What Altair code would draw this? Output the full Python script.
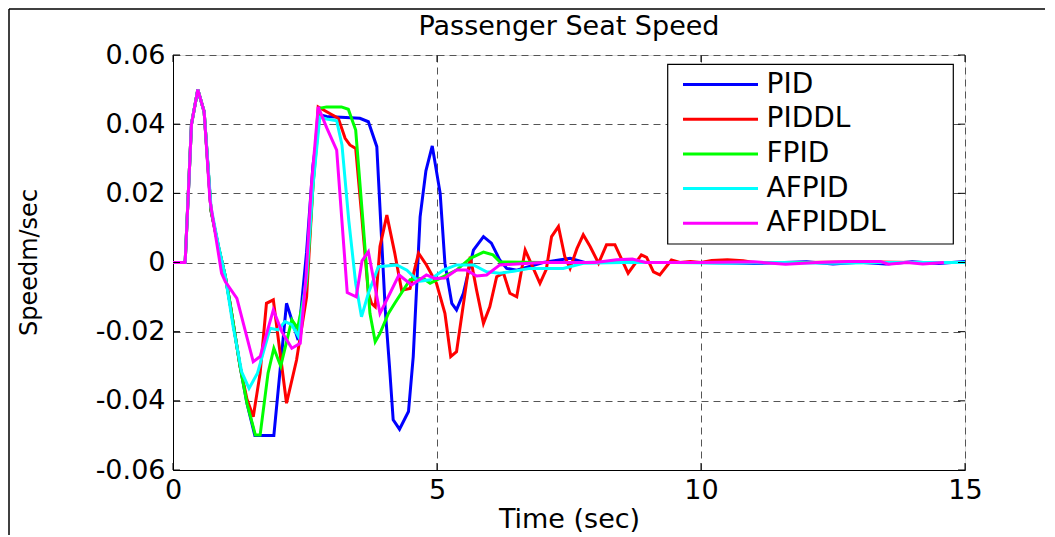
import altair as alt
import pandas as pd

FONT = "DejaVu Sans"

series_names = ["PID", "PIDDL", "FPID", "AFPID", "AFPIDDL"]
series_colors = ["#0000ff", "#ff0000", "#00ff00", "#00ffff", "#ff00ff"]

x_tick_values = [0, 5, 10, 15]
y_tick_values = [-0.06, -0.04, -0.02, 0, 0.02, 0.04, 0.06]

# (time [s], speed [m/s])
pid = [(0, 0), (0.23, 0), (0.35, 0.040), (0.47, 0.050), (0.59, 0.0436), (0.72, 0.015),
       (0.86, 0.0046), (0.99, -0.004), (1.08, -0.0118), (1.27, -0.030), (1.40, -0.0407),
       (1.55, -0.050), (1.91, -0.050), (2.15, -0.0118), (2.25, -0.0166), (2.37, -0.0224),
       (2.53, 0.003), (2.65, 0.028), (2.78, 0.0427), (2.91, 0.0422), (3.54, 0.0417),
       (3.70, 0.0407), (3.86, 0.0335), (4.02, -0.0137), (4.10, -0.030), (4.17, -0.0455),
       (4.29, -0.0482), (4.46, -0.0431), (4.55, -0.0272), (4.68, 0.0132), (4.79, 0.0265),
       (4.91, 0.0337), (5.06, 0.020), (5.15, -0.0002), (5.28, -0.0118), (5.37, -0.0137),
       (5.50, -0.0089), (5.69, 0.0036), (5.88, 0.0075), (6.03, 0.0056), (6.19, 0.0007),
       (6.32, -0.0017), (6.51, -0.0022), (7.01, 0.0), (7.52, 0.0012), (7.80, 0.0),
       (8.5, 0.0002), (9.0, 0.0), (10.0, 0.0), (11.0, -0.0003), (12.0, 0.0002),
       (12.5, -0.0004), (13.0, 0.0001), (13.5, -0.0004), (14.0, 0.0002), (14.5, -0.0003),
       (15.0, 0.0003)]

piddl = [(0, 0), (0.23, 0), (0.35, 0.040), (0.47, 0.050), (0.59, 0.0436), (0.72, 0.015),
         (0.86, 0.0046), (0.99, -0.004), (1.08, -0.0118), (1.27, -0.030), (1.40, -0.0395),
         (1.52, -0.0446), (1.65, -0.032), (1.77, -0.0118), (1.90, -0.0108), (2.15, -0.0407),
         (2.34, -0.0282), (2.53, -0.010), (2.65, 0.022), (2.75, 0.045), (2.97, 0.0431),
         (3.13, 0.0417), (3.26, 0.0359), (3.35, 0.034), (3.46, 0.033), (3.57, 0.0142),
         (3.70, -0.0089), (3.76, -0.0118), (3.83, -0.0128), (3.92, 0.0046), (4.05, 0.0137),
         (4.20, 0.0027), (4.33, -0.008), (4.49, -0.0075), (4.65, 0.0027), (4.80, -0.0007),
         (4.99, -0.006), (5.15, -0.0147), (5.26, -0.0272), (5.37, -0.0258), (5.63, 0.0017),
         (5.75, -0.008), (5.88, -0.0176), (6.00, -0.0128), (6.13, -0.0041), (6.26, -0.0031),
         (6.38, -0.0089), (6.51, -0.0099), (6.67, 0.0036), (6.95, -0.006), (7.07, -0.002),
         (7.17, 0.0075), (7.30, 0.0104), (7.42, 0.0017), (7.52, -0.0017), (7.65, 0.004),
         (7.77, 0.008), (7.90, 0.0046), (8.06, -0.0002), (8.21, 0.0051), (8.37, 0.0051),
         (8.62, -0.0031), (8.87, 0.0022), (8.97, 0.0015), (9.10, -0.0027), (9.22, -0.0036),
         (9.44, 0.0007), (9.6, 0.0), (9.8, 0.0003), (10.0, 0.0), (10.2, 0.0006),
         (10.5, 0.0008), (10.8, 0.0005), (11.0, 0.0), (12.0, 0.0), (13.0, 0.0002),
         (14.0, 0.0), (15.0, 0.0)]

fpid = [(0, 0), (0.23, 0), (0.35, 0.040), (0.47, 0.050), (0.59, 0.0436), (0.72, 0.015),
        (0.86, 0.0046), (0.99, -0.004), (1.08, -0.0118), (1.27, -0.030), (1.40, -0.0407),
        (1.56, -0.0499), (1.65, -0.0499), (1.80, -0.032), (1.91, -0.0248), (2.04, -0.030),
        (2.25, -0.0166), (2.36, -0.019), (2.53, -0.006), (2.65, 0.022), (2.78, 0.0446),
        (2.91, 0.045), (3.19, 0.045), (3.32, 0.0443), (3.46, 0.0383), (3.61, 0.0094),
        (3.73, -0.0147), (3.83, -0.0229), (3.92, -0.0205), (4.08, -0.0147), (4.20, -0.0118),
        (4.49, -0.005), (4.74, -0.0046), (4.87, -0.006), (5.12, -0.0041), (5.37, -0.0022),
        (5.63, 0.0012), (5.88, 0.0030), (6.06, 0.0022), (6.19, 0.0002), (7.0, 0.0),
        (8.0, 0.0), (9.0, 0.0), (10.0, 0.0), (11.0, 0.0), (12.0, 0.0), (13.0, 0.0),
        (14.0, 0.0), (15.0, 0.0)]

afpid = [(0, 0), (0.23, 0), (0.35, 0.040), (0.47, 0.050), (0.59, 0.0436), (0.72, 0.016),
         (0.86, 0.005), (0.99, -0.004), (1.14, -0.0186), (1.30, -0.0316), (1.44, -0.0364),
         (1.60, -0.032), (1.84, -0.019), (1.99, -0.0195), (2.12, -0.0171), (2.25, -0.018),
         (2.38, -0.0215), (2.53, -0.004), (2.65, 0.022), (2.78, 0.042), (2.91, 0.0415),
         (3.10, 0.041), (3.20, 0.034), (3.33, 0.012), (3.46, -0.006), (3.57, -0.0157),
         (3.70, -0.0089), (3.89, -0.0012), (4.24, -0.0007), (4.43, -0.0022), (4.65, -0.0055),
         (4.87, -0.005), (5.12, -0.0022), (5.37, -0.0007), (5.69, -0.0007), (5.94, -0.0027),
         (6.19, -0.0031), (6.45, -0.0025), (6.76, -0.0017), (7.39, -0.0017), (7.77, -0.0002),
         (8.5, 0.0), (9.5, 0.0), (10.5, -0.0002), (11.5, 0.0), (12.5, -0.0002), (13.5, 0.0),
         (14.5, 0.0), (15.0, 0.0)]

afpiddl = [(0, 0), (0.23, 0), (0.35, 0.040), (0.47, 0.050), (0.59, 0.0436), (0.70, 0.018),
           (0.92, -0.0031), (0.99, -0.0055), (1.21, -0.0104), (1.52, -0.0287), (1.65, -0.0272),
           (1.90, -0.0137), (2.06, -0.020), (2.25, -0.0248), (2.41, -0.0234), (2.52, -0.004),
           (2.62, 0.022), (2.75, 0.045), (2.91, 0.039), (3.10, 0.0325), (3.30, -0.0087),
           (3.47, -0.0099), (3.58, 0.0005), (3.70, 0.0031), (3.92, -0.0147), (4.11, -0.0089),
           (4.28, -0.0036), (4.52, -0.0065), (4.80, -0.0036), (4.96, -0.0046), (5.15, -0.0045),
           (5.37, -0.0022), (5.56, -0.0022), (5.75, -0.0039), (5.94, -0.0036), (6.19, -0.0007),
           (7.0, 0.0), (8.0, 0.0), (8.4, 0.0008), (8.7, 0.001), (8.95, 0.0), (10.0, 0.0),
           (11.0, 0.0002), (11.6, -0.0005), (12.2, 0.0), (12.8, 0.0003), (13.4, 0.0003),
           (13.55, -0.0005), (13.9, 0.0), (14.2, -0.0004), (14.6, 0.0)]

all_series = [pid, piddl, fpid, afpid, afpiddl]

rows = []
for name, pts in zip(series_names, all_series):
    for i, (t, v) in enumerate(pts):
        rows.append({"series": name, "t": t, "v": v, "i": i})
df = pd.DataFrame(rows)

x_scale = alt.Scale(domain=[0, 15], nice=False, zero=False)
y_scale = alt.Scale(domain=[-0.06, 0.06], nice=False, zero=False)

x_axis = alt.Axis(
    values=x_tick_values, grid=True, gridDash=[7, 5], gridColor="#555", gridWidth=1,
    ticks=False, tickSize=0, domainColor="black", domainWidth=1,
    labelFont=FONT, labelFontSize=27, labelColor="black", labelPadding=7,
    labelFlush=False, labelOverlap=False,
    title="Time (sec)", titleFont=FONT, titleFontSize=27, titleFontWeight="normal",
    titleColor="black", titleY=49, titleBaseline="middle",
)
y_axis = alt.Axis(
    values=y_tick_values, grid=True, gridDash=[7, 5], gridColor="#555", gridWidth=1,
    ticks=False, tickSize=0, domainColor="black", domainWidth=1,
    labelFont=FONT, labelFontSize=27, labelColor="black", labelPadding=8,
    labelFlush=False, labelOverlap=False,
    labelExpr="datum.value == 0 ? '0' : (datum.value < 0 ? '-' : '') + format(abs(datum.value), '.2f')",
    title="Speedm/sec", titleFont=FONT, titleFontSize=24, titleFontWeight="normal",
    titleColor="black", titleX=-144, titleY=207, titleAngle=270,
    titleAlign="center", titleBaseline="middle",
)

x_enc = alt.X("t:Q", scale=x_scale, axis=x_axis)
y_enc = alt.Y("v:Q", scale=y_scale, axis=y_axis)

lines = alt.Chart(df).mark_line(strokeWidth=3, clip=True).encode(
    x=x_enc,
    y=y_enc,
    order=alt.Order("i:Q"),
    color=alt.Color(
        "series:N",
        scale=alt.Scale(domain=series_names, range=series_colors),
        sort=series_names,
        legend=alt.Legend(
            title=None, orient="none", legendX=510, legendY=15.5, direction="vertical",
            symbolType="M-5,0H5", symbolSize=225, symbolStrokeWidth=3,
            symbolOffset=23.5, labelOffset=32, labelFont=FONT, labelFontSize=28,
            labelColor="black", rowPadding=6.7, padding=0, labelLimit=400,
        ),
    ),
)

one = pd.DataFrame({"k": [0]})

legend_box = alt.Chart(one).mark_rect(fill="white", stroke="black", strokeWidth=1.2).encode(
    x=alt.value(494.7), x2=alt.value(780.3), y=alt.value(9.3), y2=alt.value(189)
)

ydf = pd.DataFrame({"v": y_tick_values})
xdf = pd.DataFrame({"t": x_tick_values})

ticks_left = alt.Chart(ydf).mark_rule(color="black", strokeWidth=1).encode(
    y=y_enc, x=alt.value(0), x2=alt.value(7))
ticks_right = alt.Chart(ydf).mark_rule(color="black", strokeWidth=1).encode(
    y=y_enc, x=alt.value(785), x2=alt.value(792))
ticks_bottom = alt.Chart(xdf).mark_rule(color="black", strokeWidth=1).encode(
    x=x_enc, y=alt.value(408), y2=alt.value(415))
ticks_top = alt.Chart(xdf).mark_rule(color="black", strokeWidth=1).encode(
    x=x_enc, y=alt.value(0), y2=alt.value(7))

frame_top = alt.Chart(one).mark_rule(color="black", strokeWidth=1.5).encode(
    x=alt.value(-164), x2=alt.value(880), y=alt.value(-46))
frame_left = alt.Chart(one).mark_rule(color="black", strokeWidth=1.5).encode(
    x=alt.value(-164), y=alt.value(-46), y2=alt.value(490))

chart = alt.layer(
    lines, legend_box, ticks_left, ticks_right, ticks_bottom, ticks_top, frame_top, frame_left
).properties(
    width=792,
    height=415,
    autosize=alt.AutoSizeParams(type="none"),
    padding={"left": 165, "top": 47, "right": 80, "bottom": 65},
    title=alt.TitleParams(
        "Passenger Seat Speed", font=FONT, fontSize=27, fontWeight="normal",
        color="black", anchor="middle", frame="group", baseline="bottom", offset=-60,
    ),
).configure_view(
    stroke="black", strokeWidth=1
).configure(background="white")

chart.save("out.html", embed_options={"renderer": "svg", "actions": False})
